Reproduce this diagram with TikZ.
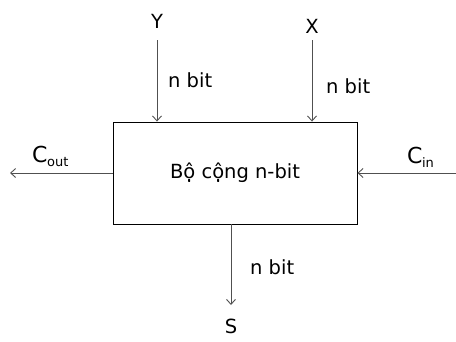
\documentclass[tikz,border=0pt]{standalone}
\usepackage{fontspec}
\setmainfont{DejaVu Sans}
\usetikzlibrary{arrows.meta,positioning}
\definecolor{wireGray}{RGB}{80,80,80}
\newcommand{\carrysig}[1]{{\fontsize{22}{24}\selectfont C}\kern-0.5pt\raisebox{-4.5pt}{\fontsize{13}{15}\selectfont #1}}
\tikzset{
  wire/.style={-{Straight Barb[length=5pt,width=9pt]}, wireGray, line width=0.9pt},
  lbl/.style={font=\fontsize{19.5}{22}\selectfont, inner sep=0pt},
  adderbox/.style={draw, line width=0.9pt, minimum width=244pt, minimum height=102pt, inner sep=0pt}
}
\begin{document}
\begin{tikzpicture}[x=1pt, y=-1pt]
    \useasboundingbox (0,0) rectangle (456,341);
    % Adder block
    \node[adderbox, lbl] (adder) at (235,173) {Bộ cộng n-bit};
    % Inputs Y and X
    \node[lbl] (y) at (157,21) {Y};
    \node[lbl] (x) at (312,26) {X};
    \coordinate (ystart) at (157,40);
    \coordinate (xstart) at (312,40);
    \draw[wire] (ystart) -- (ystart |- adder.north);
    \draw[wire] (xstart) -- (xstart |- adder.north);
    \node[lbl, anchor=west] (ybits) at (168,80) {n bit};
    \node[lbl, anchor=west] (xbits) at (326,86) {n bit};
    % Carry in and carry out
    \coordinate (cinstart) at (456,173);
    \coordinate (coutend) at (10,173);
    \draw[wire] (cinstart) -- (adder.east |- cinstart);
    \draw[wire] (adder.west |- coutend) -- (coutend);
    \node[lbl, anchor=base west] (cin) at (407,163) {\carrysig{in}};
    \node[lbl, anchor=base west] (cout) at (32,162) {\carrysig{out}};
    % Sum output
    \coordinate (send) at (231,305);
    \draw[wire] (send |- adder.south) -- (send);
    \node[lbl] (s) at (231,326) {S};
    \node[lbl, anchor=west] (sbits) at (250,267) {n bit};
\end{tikzpicture}
\end{document}
